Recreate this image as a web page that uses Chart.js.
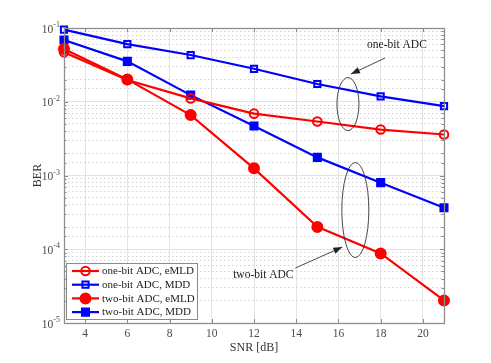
<!DOCTYPE html>
<html>
<head>
<meta charset="utf-8">
<script src="https://cdn.jsdelivr.net/npm/chart.js@4/dist/chart.umd.min.js"></script>
<style>
html,body{margin:0;padding:0;background:#fff;}
#wrap{width:491px;height:363px;position:relative;}
</style>
</head>
<body>
<div id="wrap"><canvas id="c" width="491" height="363"></canvas></div>
<script>
const snr = [3, 6, 9, 12, 15, 18, 21];
const oneBitEMLD = [0.047, 0.0197, 0.0111, 0.0069, 0.0054, 0.0042, 0.0036];
const oneBitMDD = [0.095, 0.0605, 0.043, 0.028, 0.0174, 0.0118, 0.0087];
const twoBitEMLD = [0.052, 0.0201, 0.0066, 0.00125, 0.000201, 0.0000877, 0.0000202];
const twoBitMDD = [0.0687, 0.0353, 0.0123, 0.00468, 0.00176, 0.00080, 0.000365];
const seriesLabels = ['one-bit ADC, eMLD', 'one-bit ADC, MDD', 'two-bit ADC, eMLD', 'two-bit ADC, MDD'];
const xTicks = [4, 6, 8, 10, 12, 14, 16, 18, 20];
const yDecades = [-1, -2, -3, -4, -5];
const annotations = [
  {text: 'one-bit ADC', ex: 16.45, ey: 0.0093},
  {text: 'two-bit ADC', ex: 16.8, ey: 0.00034}
];

const SERIF = '"Liberation Serif", "Times New Roman", serif';
const RED = '#ff0000', BLUE = '#0000ff';

function isDecade(v){ const l = Math.log10(v); return Math.abs(l - Math.round(l)) < 1e-6; }

function pts(arr){ return snr.map((x,i)=>({x:x, y:arr[i]})); }

const styles = [
  {color: RED, style: 'circle', r: 4.3, fill: false},
  {color: BLUE, style: 'rect', r: 4.4, fill: false},
  {color: RED, style: 'circle', r: 5.0, fill: true},
  {color: BLUE, style: 'rect', r: 5.0, fill: true}
];
const dataArr = [oneBitEMLD, oneBitMDD, twoBitEMLD, twoBitMDD];

const datasets = dataArr.map((d,i)=>({
  label: seriesLabels[i],
  data: pts(d),
  borderColor: styles[i].color,
  backgroundColor: styles[i].fill ? styles[i].color : '#ffffff',
  pointBackgroundColor: styles[i].fill ? styles[i].color : 'rgba(255,255,255,0)',
  pointBorderColor: styles[i].color,
  pointBorderWidth: 2,
  pointStyle: styles[i].style,
  pointRadius: styles[i].r,
  borderWidth: 2.2,
  tension: 0,
  clip: false
}));

function drawMarker(ctx, i, x, y){
  const s = styles[i];
  ctx.save();
  ctx.strokeStyle = s.color; ctx.fillStyle = s.color; ctx.lineWidth = 2;
  ctx.beginPath();
  if (s.style === 'circle') {
    ctx.arc(x, y, s.r, 0, Math.PI*2);
  } else {
    const h = s.r*Math.SQRT1_2;
    ctx.rect(x-h, y-h, 2*h, 2*h);
  }
  if (s.fill) ctx.fill();
  ctx.stroke();
  ctx.restore();
}

function arrow(ctx, x1, y1, x2, y2){
  ctx.beginPath(); ctx.moveTo(x1,y1); ctx.lineTo(x2,y2); ctx.stroke();
  const a = Math.atan2(y2-y1, x2-x1);
  const L = 9, W = 3.2;
  const bx = x2 - L*Math.cos(a), by = y2 - L*Math.sin(a);
  ctx.beginPath();
  ctx.moveTo(x2,y2);
  ctx.lineTo(bx + W*Math.sin(a), by - W*Math.cos(a));
  ctx.lineTo(bx - W*Math.sin(a), by + W*Math.cos(a));
  ctx.closePath(); ctx.fill();
}

const decor = {
  id: 'decor',
  beforeDatasetsDraw(chart){
    const {ctx, chartArea: a, scales} = chart;
    const xs = scales.x, ys = scales.y;
    ctx.save();
    ctx.strokeStyle = '#8a8a8a'; ctx.lineWidth = 1;
    ctx.beginPath();
    xTicks.forEach(v=>{
      const px = Math.round(xs.getPixelForValue(v))+0.5;
      ctx.moveTo(px, a.bottom); ctx.lineTo(px, a.bottom-4);
      ctx.moveTo(px, a.top); ctx.lineTo(px, a.top+4);
    });
    ys.ticks.forEach(t=>{
      const py = Math.round(ys.getPixelForValue(t.value))+0.5;
      const L = isDecade(t.value) ? 4 : 2.5;
      ctx.moveTo(a.left, py); ctx.lineTo(a.left+L, py);
      ctx.moveTo(a.right, py); ctx.lineTo(a.right-L, py);
    });
    ctx.stroke();
    ctx.restore();
  },
  afterDraw(chart){
    const {ctx, chartArea: a, scales} = chart;
    const xs = scales.x, ys = scales.y;
    ctx.save();
    ctx.strokeStyle = '#8f8f8f'; ctx.lineWidth = 1.3;
    ctx.strokeRect(Math.round(a.left)+0.5, Math.round(a.top)+0.5, Math.round(a.right-a.left), Math.round(a.bottom-a.top));
    // x tick labels
    ctx.fillStyle = '#4a4a4a';
    ctx.font = '11.5px ' + SERIF;
    ctx.textAlign = 'center'; ctx.textBaseline = 'middle';
    xTicks.forEach(v=>{
      ctx.fillText(String(v), xs.getPixelForValue(v), a.bottom + 11);
    });
    // y tick labels with superscripts
    yDecades.forEach(e=>{
      const py = ys.getPixelForValue(Math.pow(10, e));
      const sup = String(e);
      ctx.font = '8px ' + SERIF;
      const sw = ctx.measureText(sup).width;
      ctx.textAlign = 'left'; ctx.textBaseline = 'alphabetic';
      const right = a.left - 4;
      ctx.fillText(sup, right - sw, py - 1);
      ctx.font = '11.5px ' + SERIF;
      const bw = ctx.measureText('10').width;
      ctx.fillText('10', right - sw - bw, py + 4.5);
    });
    // axis titles
    ctx.fillStyle = '#333333';
    ctx.font = '12px ' + SERIF;
    ctx.textAlign = 'center'; ctx.textBaseline = 'middle';
    ctx.fillText('SNR [dB]', (a.left + a.right)/2, a.bottom + 25);
    ctx.save();
    ctx.translate(a.left - 26, (a.top + a.bottom)/2);
    ctx.rotate(-Math.PI/2);
    ctx.fillText('BER', 0, 0);
    ctx.restore();

    // annotations
    ctx.strokeStyle = '#333333'; ctx.fillStyle = '#222222'; ctx.lineWidth = 0.9;
    const e1x = xs.getPixelForValue(annotations[0].ex), e1y = ys.getPixelForValue(annotations[0].ey);
    ctx.beginPath(); ctx.ellipse(e1x, e1y, 11, 26.5, 0, 0, Math.PI*2); ctx.stroke();
    const e2x = xs.getPixelForValue(annotations[1].ex), e2y = ys.getPixelForValue(annotations[1].ey);
    ctx.beginPath(); ctx.ellipse(e2x, e2y, 13.5, 47.5, 0, 0, Math.PI*2); ctx.stroke();
    arrow(ctx, e1x + 37, e1y - 46, e1x + 3, e1y - 30);
    arrow(ctx, e2x - 60, e2y + 58, e2x - 13, e2y + 37);
    ctx.font = '11.5px ' + SERIF;
    ctx.textAlign = 'center'; ctx.textBaseline = 'middle';
    ctx.fillText(annotations[0].text, e1x + 49, e1y - 59);
    ctx.fillText(annotations[1].text, e2x - 92, e2y + 65);

    // legend
    const lx = a.left + 2, ly = a.bottom - 60, lw = 131, lh = 56;
    ctx.fillStyle = '#ffffff';
    ctx.fillRect(lx, ly, lw, lh);
    ctx.strokeStyle = '#8a8a8a'; ctx.lineWidth = 1;
    ctx.strokeRect(lx+0.5, ly+0.5, lw, lh);
    seriesLabels.forEach((lab,i)=>{
      const yy = ly + 8 + i*13.7;
      ctx.strokeStyle = styles[i].color; ctx.lineWidth = 2.2;
      ctx.beginPath(); ctx.moveTo(lx+6, yy); ctx.lineTo(lx+33, yy); ctx.stroke();
      drawMarker(ctx, i, lx+19.5, yy);
      ctx.fillStyle = '#222222';
      ctx.font = '11px ' + SERIF;
      ctx.textAlign = 'left'; ctx.textBaseline = 'middle';
      ctx.fillText(lab, lx+36, yy+0.5);
    });
    ctx.restore();
  }
};

new Chart(document.getElementById('c'), {
  type: 'line',
  data: { datasets },
  options: {
    responsive: false,
    animation: false,
    devicePixelRatio: 1,
    layout: { padding: { left: 64, right: 47, top: 28, bottom: 40 } },
    plugins: { legend: { display: false }, tooltip: { enabled: false } },
    scales: {
      x: {
        type: 'linear', min: 3, max: 21,
        afterBuildTicks: (s)=>{ s.ticks = xTicks.map(v=>({value:v})); },
        ticks: { display: false },
        grid: { color: '#e3e3e3', lineWidth: 1, drawTicks: false },
        border: { display: false }
      },
      y: {
        type: 'logarithmic', min: 1e-5, max: 1e-1,
        ticks: { display: false },
        grid: {
          drawTicks: false,
          color: (c)=> c.tick && isDecade(c.tick.value) ? '#e3e3e3' : '#d4d4d4',
          lineWidth: 1
        },
        border: {
          display: false,
          dash: (c)=> c.tick && !isDecade(c.tick.value) ? [1.5, 2.5] : []
        }
      }
    }
  },
  plugins: [decor]
});
</script>
</body>
</html>
